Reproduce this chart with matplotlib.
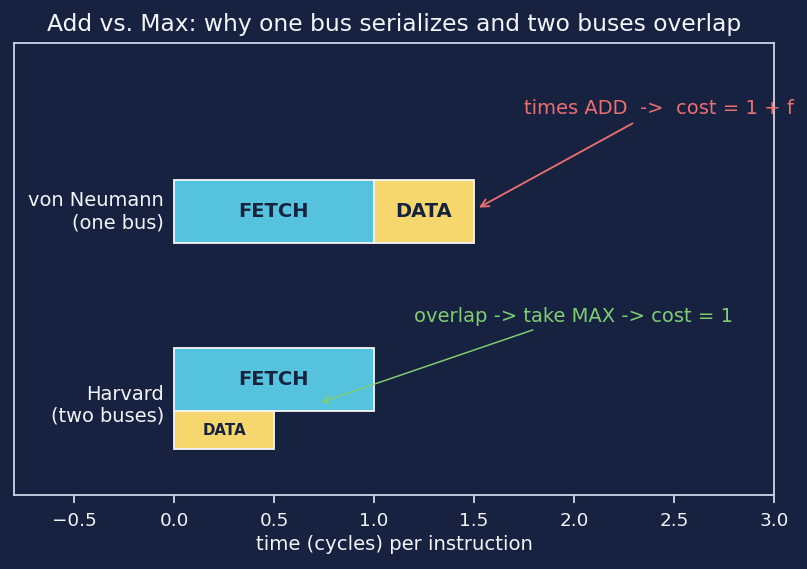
import matplotlib.pyplot as plt

# Durations (cycles per instruction)
vn_fetch = 1.0
vn_data = 0.5
hv_fetch = 1.0
hv_data = 0.5

rows = ["von Neumann\n(one bus)", "Harvard\n(two buses)"]

BG = "#172140"
FETCH_C = "#56c3de"
DATA_C = "#f5d76e"
EDGE = "#f2f4f8"
SPINE = "#c9d1e3"
TXT = "#f2f4f8"
DARK = "#15233f"

fig = plt.figure(figsize=(807 / 120, 569 / 120), dpi=120, facecolor=BG)
ax = fig.add_axes([14 / 807, 74 / 569, 760 / 807, 452 / 569])
ax.set_facecolor(BG)

# von Neumann: fetch then data, serialized
vn_y = 1.62
ax.barh(vn_y, vn_fetch, left=0, height=0.51, color=FETCH_C, edgecolor=EDGE, linewidth=1.1)
ax.barh(vn_y, vn_data, left=vn_fetch, height=0.51, color=DATA_C, edgecolor=EDGE, linewidth=1.1)
ax.text(vn_fetch / 2, vn_y, "FETCH", ha="center", va="center",
        fontsize=11.7, fontweight="bold", color=DARK)
ax.text(vn_fetch + vn_data / 2, vn_y, "DATA", ha="center", va="center",
        fontsize=11.7, fontweight="bold", color=DARK)

# Harvard: fetch and data in parallel
ax.barh(0.245, hv_fetch, left=0, height=0.52, color=FETCH_C, edgecolor=EDGE, linewidth=1.1)
ax.barh(-0.17, hv_data, left=0, height=0.31, color=DATA_C, edgecolor=EDGE, linewidth=1.1)
ax.text(hv_fetch / 2, 0.245, "FETCH", ha="center", va="center",
        fontsize=11.7, fontweight="bold", color=DARK)
ax.text(hv_data / 2, -0.17, "DATA", ha="center", va="center",
        fontsize=9, fontweight="bold", color=DARK)

# row labels
ax.text(-0.05, vn_y, rows[0], ha="right", va="center", fontsize=11.6, color=TXT)
ax.text(-0.05, 0.035, rows[1], ha="right", va="center", fontsize=11.6, color=TXT)

# annotations
ax.annotate("times ADD  ->  cost = 1 + f", xy=(vn_fetch + vn_data + 0.01, vn_y + 0.02),
            xytext=(1.75, 2.46), fontsize=11.7, color="#ee6f6f", ha="left", va="center",
            arrowprops=dict(arrowstyle="->", color="#ee6f6f", lw=1.1), annotation_clip=False)
ax.annotate("overlap -> take MAX -> cost = 1", xy=(0.72, 0.05),
            xytext=(1.2, 0.765), fontsize=11.7, color="#7fcf72", ha="left", va="center",
            arrowprops=dict(arrowstyle="->", color="#7fcf72", lw=0.9))

ax.set_xlim(-0.8, 3.0)
ax.set_ylim(-0.7, 3.0)
ax.set_yticks([])
ax.set_xticks([-0.5, 0, 0.5, 1.0, 1.5, 2.0, 2.5, 3.0])
ax.tick_params(axis="x", colors=SPINE, labelcolor=TXT, labelsize=11, pad=5.5, length=4.5, width=1.1)
ax.set_xlabel("time (cycles) per instruction", color=TXT, fontsize=11.75, labelpad=3)
for s in ax.spines.values():
    s.set_color(SPINE)
    s.set_linewidth(1.1)

fig.text(394 / 807, 1 - 25 / 569, "Add vs. Max: why one bus serializes and two buses overlap",
         ha="center", va="center", fontsize=14, color=TXT)

fig.savefig("out.png", facecolor=BG)
